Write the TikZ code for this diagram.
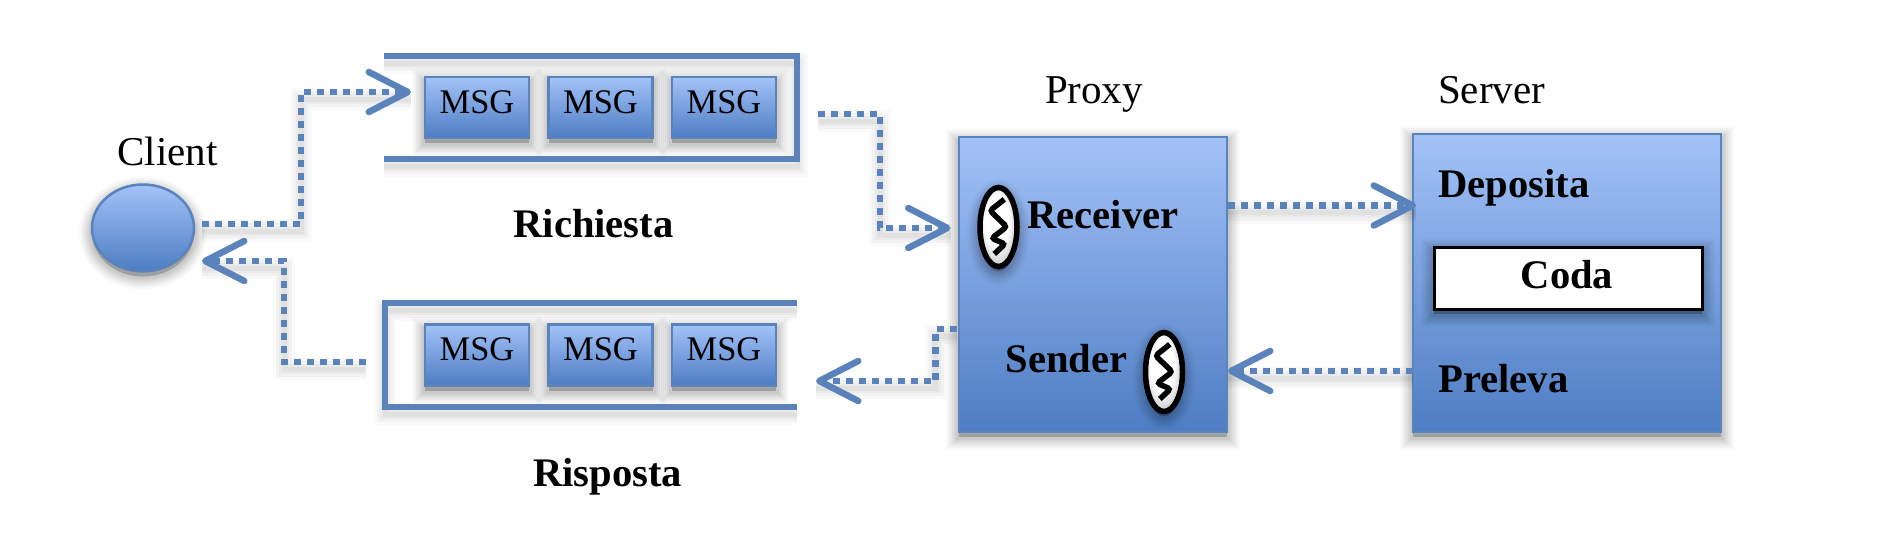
\documentclass[tikz,border=0pt]{standalone}
\usepackage{fontspec}
\setmainfont{Liberation Serif}
\usetikzlibrary{shapes.geometric,arrows.meta}
\definecolor{edge}{HTML}{5A83BB}
\definecolor{gtop}{HTML}{A3C2F8}
\definecolor{gbot}{HTML}{4D7DC3}
\pgfdeclareradialshading{threadball}{\pgfpoint{-4bp}{6bp}}{color(0bp)=(white);color(16bp)=(white);color(30bp)=(black!25);color(50bp)=(black!25)}
\tikzset{
  softshadow/.style={
    preaction={draw=black,fill=black,opacity=.02,line width=26pt,transform canvas={yshift=-5pt}},
    preaction={draw=black,fill=black,opacity=.03,line width=22pt,transform canvas={yshift=-5pt}},
    preaction={draw=black,fill=black,opacity=.04,line width=18pt,transform canvas={yshift=-5pt}},
    preaction={draw=black,fill=black,opacity=.04,line width=14pt,transform canvas={yshift=-5pt}},
    preaction={draw=black,fill=black,opacity=.05,line width=10pt,transform canvas={yshift=-5pt}},
    preaction={draw=black,fill=black,opacity=.05,line width=6pt,transform canvas={yshift=-5pt}}},
  lineshadow/.style={
    preaction={draw=black,opacity=.02,line width=22pt,solid,-,transform canvas={yshift=-7pt}},
    preaction={draw=black,opacity=.03,line width=16pt,solid,-,transform canvas={yshift=-7pt}},
    preaction={draw=black,opacity=.03,line width=10pt,solid,-,transform canvas={yshift=-7pt}},
    preaction={draw=black,opacity=.04,line width=5pt,solid,-,transform canvas={yshift=-7pt}}},
  grad/.style={softshadow,draw=edge,line width=2.5pt,top color=gtop,bottom color=gbot,inner sep=0pt,rectangle},
  msg/.style={grad,minimum width=104pt,text height=36pt,text depth=25pt,font=\fontsize{34.5}{40}\selectfont},
  bigbox/.style={grad},
  conn/.style={lineshadow,draw=edge,line width=6.5pt,dash pattern=on 7pt off 6pt,
    -{Straight Barb[length=39pt,width=40pt,line width=6.5pt,round]}},
  queue/.style={lineshadow,draw=edge,line width=6.5pt,line join=miter},
  lab/.style={anchor=base,font=\fontsize{41}{48}\selectfont},
  blab/.style={anchor=base,font=\fontsize{40.6}{48}\selectfont\bfseries},
  thread/.style={softshadow,ellipse,draw=black,line width=5.5pt,shading=threadball,inner sep=0pt,minimum width=37pt,minimum height=79pt},
  squig/.style={draw=black,line width=5.5pt,rounded corners=3pt},
}
\begin{document}
\begin{tikzpicture}[x=1pt,y=-1pt]
\useasboundingbox (0,0) rectangle (1877,554);

% queues
\draw[queue] (384,56) -- (797,56) -- (797,159) -- (384,159);
\draw[queue] (797,303) -- (385,303) -- (385,407) -- (797,407);

% client
\node[softshadow,ellipse,draw=edge,line width=2.5pt,top color=gtop,bottom color=gbot,inner sep=0pt,
  minimum width=102pt,minimum height=87pt] (client) at (143,228) {};
\node[lab] (clientlab) at (167.5,165) {Client};

% message boxes
\node[msg] (a1) at (477,107.5) {MSG};
\node[msg] (a2) at (600.5,107.5) {MSG};
\node[msg] (a3) at (724,107.5) {MSG};
\node[msg] (b1) at (477,355) {MSG};
\node[msg] (b2) at (600.5,355) {MSG};
\node[msg] (b3) at (724,355) {MSG};
\node[blab] (richiesta) at (593.5,237) {Richiesta};
\node[blab] (risposta) at (607.5,486) {Risposta};

% proxy and server
\node[bigbox,minimum width=268pt,minimum height=295pt] (proxy) at (1093,284.5) {};
\node[bigbox,minimum width=308pt,minimum height=298pt] (server) at (1567,283) {};
\node[lab] (proxylab) at (1094,103) {Proxy};
\node[lab] (serverlab) at (1491.5,103) {Server};
\node[blab,anchor=base west] (receiver) at (1024,228) {Receiver};
\node[blab,anchor=base west] (sender) at (1002,372) {Sender};
\node[blab,anchor=base west] (deposita) at (1435,197) {Deposita};
\node[blab,anchor=base west] (preleva) at (1435,392) {Preleva};
\node[softshadow,draw=black,line width=3pt,fill=white,rectangle,inner sep=0pt,minimum width=268pt,
  text height=41pt,text depth=21pt,font=\fontsize{40.6}{48}\selectfont\bfseries] (coda) at (1568,278) {\hspace*{-2pt}Coda};

% threads
\node[thread] (t1) at (998.5,227) {};
\draw[squig,shift={(t1.center)}] (5.8,-27.7) -- (-8.5,-16.3) -- (8.2,-0.3) -- (-6.8,11.3) -- (6.5,17) -- (-4.2,27);
\node[thread] (t2) at (1164,372) {};
\draw[squig,shift={(t2.center)}] (5.8,-27.7) -- (-8.5,-16.3) -- (8.2,-0.3) -- (-6.8,11.3) -- (6.5,17) -- (-4.2,27);

% connector ends
\coordinate (c1s) at (202,224);
\coordinate (c1a) at (301,224);
\coordinate (c1b) at (301,92);
\coordinate (c1e) at (411,92);
\coordinate (c2s) at (818,114);
\coordinate (c2a) at (880,114);
\coordinate (c2b) at (880,228);
\coordinate (c2e) at (950.5,228);
\coordinate (c3s) at (1228,205.5);
\coordinate (c3e) at (1416,205.5);
\coordinate (c4s) at (1413,371);
\coordinate (c4e) at (1228,371);
\coordinate (c5s) at (957,329);
\coordinate (c5a) at (935.5,329);
\coordinate (c5b) at (935.5,381);
\coordinate (c5e) at (816,381);
\coordinate (c6s) at (366,362);
\coordinate (c6a) at (284,362);
\coordinate (c6b) at (284,261);
\coordinate (c6e) at (202,261);

\draw[conn] (c1s) -- (c1a) -- (c1b) -- (c1e);
\draw[conn] (c2s) -- (c2a) -- (c2b) -- (c2e);
\draw[conn] (c3s) -- (c3e);
\draw[conn] (c4s) -- (c4e);
\draw[conn] (c5s) -- (c5a) -- (c5b) -- (c5e);
\draw[conn] (c6s) -- (c6a) -- (c6b) -- (c6e);
\end{tikzpicture}
\end{document}
